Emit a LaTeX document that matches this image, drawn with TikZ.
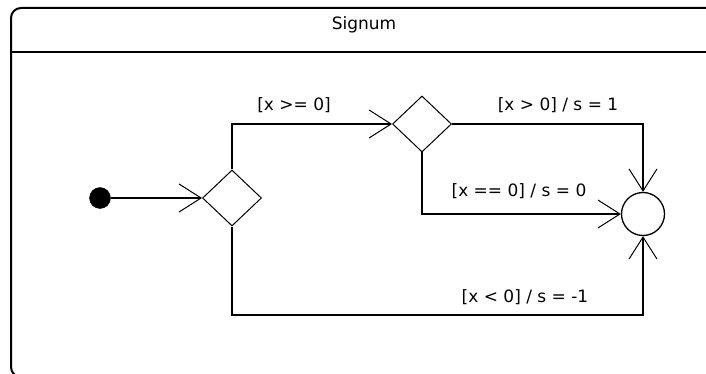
\documentclass[tikz,border=0pt]{standalone}
\usepackage{fontspec}
\setmainfont{DejaVu Sans}
\usetikzlibrary{arrows.meta,shapes.geometric}
\begin{document}
\begin{tikzpicture}[x=1pt,y=-1pt,
  lbl/.style={font=\fontsize{17}{19}\selectfont, inner sep=0pt},
  flow/.style={line width=1.3pt, -{Straight Barb[length=22pt,width=28pt,line width=1pt]}},
  decision/.style={diamond, draw, line width=1pt, minimum width=59pt, minimum height=56pt, inner sep=0pt, fill=white},
]
\useasboundingbox (0,0) rectangle (706,374);
\begin{scope}
\clip (0,0) rectangle (706,374);
\draw[line width=2pt, rounded corners=10pt] (720,377) -- (11,377) -- (11,8) -- (720,8);
\draw[line width=2pt] (11,52) -- (720,52);
\end{scope}
\node[lbl] (title) at (364,25) {Signum};

\node[circle, fill=black, draw, minimum size=21pt, inner sep=0pt] (init) at (100,198) {};
\node[decision] (d1) at (232,198) {};
\node[decision] (d2) at (422,124) {};
\node[circle, draw, line width=1.3pt, minimum size=43pt, inner sep=0pt] (fin) at (643,214) {};

\coordinate (c1) at (232,124);
\coordinate (c2) at (643,124);
\coordinate (c3) at (422,214);
\coordinate (c4) at (232,315);
\coordinate (c5) at (643,315);

\draw[flow] (init.east) -- (d1.west);
\draw[flow] (d1.north) -- (c1) -- (d2.west);
\draw[flow] (d2.east) -- (c2) -- (fin.north);
\draw[flow] (d2.south) -- (c3) -- (fin.west);
\draw[flow] (d1.south) -- (c4) -- (c5) -- (fin.south);

\node[lbl] (l1) at (294,105) {[x >= 0]};
\node[lbl] (l2) at (558,105) {[x > 0] / s = 1};
\node[lbl] (l3) at (519,191) {[x == 0] / s = 0};
\node[lbl] (l4) at (525,297) {[x < 0] / s = -1};
\end{tikzpicture}
\end{document}
